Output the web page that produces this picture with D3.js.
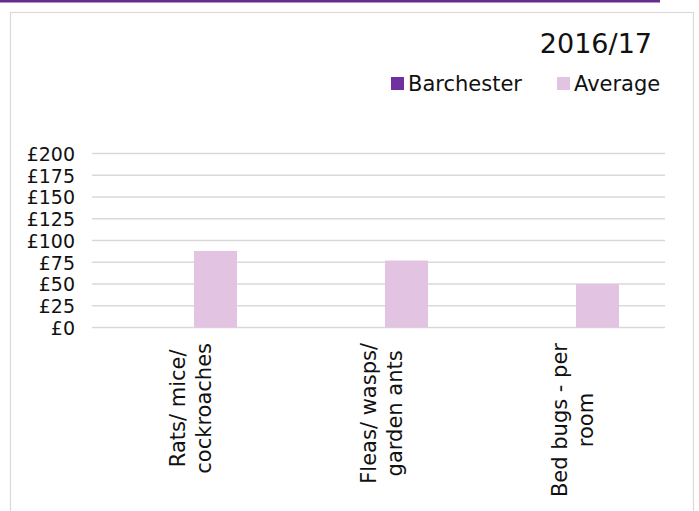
<!DOCTYPE html>
<html>
<head>
<meta charset="utf-8">
<script src="https://cdn.jsdelivr.net/npm/d3@7"></script>
<style>
  html, body { margin: 0; padding: 0; background: #fff; }
  svg { display: block; font-family: "DejaVu Sans", Verdana, sans-serif; }
</style>
</head>
<body>
<svg id="chart" width="699" height="511"></svg>
<script>
// Pest control charges, 2016/17
const title = "2016/17";
const categories = [
  ["Rats/ mice/", "cockroaches"],
  ["Fleas/ wasps/", "garden ants"],
  ["Bed bugs - per", "room"]
];
const seriesNames = ["Barchester", "Average"];
const barchesterValues = [0, 0, 0];
const averageValues = [88, 77, 50];
const yTicks = [0, 25, 50, 75, 100, 125, 150, 175, 200];

const colors = { Barchester: "#7030a0", Average: "#e2c4e2" };
const textColor = "#111";
const svg = d3.select("#chart");

// top accent strip and chart frame
svg.append("rect").attr("x", 0).attr("y", 0).attr("width", 660).attr("height", 2.5).attr("fill", "#662d8c");
svg.append("rect").attr("x", 10.5).attr("y", 12.5).attr("width", 683).attr("height", 520)
  .attr("fill", "none").attr("stroke", "#d9d9d9").attr("stroke-width", 1.2);

const plot = { left: 92, right: 665, top: 153.5, bottom: 327.5 };
const catKeys = categories.map(c => c.join(" "));

const x0 = d3.scaleBand().domain(catKeys).range([plot.left, plot.right]).padding(0);
const x1 = d3.scaleBand().domain(seriesNames).range([59, 145]).padding(0);
const y = d3.scaleLinear().domain([0, 200]).range([plot.bottom, plot.top]);

// gridlines
svg.append("g").selectAll("line").data(yTicks).join("line")
  .attr("x1", plot.left).attr("x2", plot.right)
  .attr("y1", d => y(d)).attr("y2", d => y(d))
  .attr("stroke", "#d9d9d9").attr("stroke-width", 1.4);

// y axis labels
const yAxis = d3.axisLeft(y).tickValues(yTicks).tickSize(0).tickPadding(0)
  .tickFormat(d => "£" + d);
const ya = svg.append("g").attr("transform", `translate(75,0)`).call(yAxis);
ya.select(".domain").remove();
ya.selectAll("text").attr("font-size", 19).attr("fill", textColor)
  .attr("font-family", "DejaVu Sans, Verdana, sans-serif").attr("dy", "0.36em");

// bars
const rows = catKeys.map((k, i) => ({ key: k, Barchester: barchesterValues[i], Average: averageValues[i] }));
const groups = svg.append("g").selectAll("g").data(rows).join("g")
  .attr("transform", d => `translate(${x0(d.key)},0)`);
groups.selectAll("rect").data(d => seriesNames.map(s => ({ s, v: d[s] }))).join("rect")
  .attr("x", d => x1(d.s)).attr("width", x1.bandwidth())
  .attr("y", d => y(d.v)).attr("height", d => y(0) - y(d.v))
  .attr("fill", d => colors[d.s]);

// category labels, rotated, lines centred on each other
const labelTop = 343;
categories.forEach((lines, i) => {
  const cx = x0(catKeys[i]) + x0.bandwidth() / 2;
  const t = svg.append("text").attr("font-size", 21).attr("fill", textColor).attr("text-anchor", "middle");
  lines.forEach((ln, j) => {
    t.append("tspan").attr("x", 0).attr("y", j === 0 ? -2.5 : 23.5).text(ln);
  });
  let maxLen = 0;
  t.selectAll("tspan").each(function () { maxLen = Math.max(maxLen, this.getComputedTextLength()); });
  t.attr("transform", `translate(${cx},${labelTop + maxLen / 2}) rotate(-90)`);
});

// title
svg.append("text").attr("x", 652).attr("y", 53).attr("text-anchor", "end")
  .attr("font-size", 27).attr("fill", textColor).text(title);

// legend
const legendItems = [
  { name: "Barchester", x: 391 },
  { name: "Average", x: 557 }
];
const lg = svg.append("g").selectAll("g").data(legendItems).join("g")
  .attr("transform", d => `translate(${d.x},77)`);
lg.append("rect").attr("width", 13).attr("height", 13).attr("fill", d => colors[d.name]);
lg.append("text").attr("x", 17).attr("y", 14).attr("font-size", 21).attr("fill", textColor).text(d => d.name);
</script>
</body>
</html>
